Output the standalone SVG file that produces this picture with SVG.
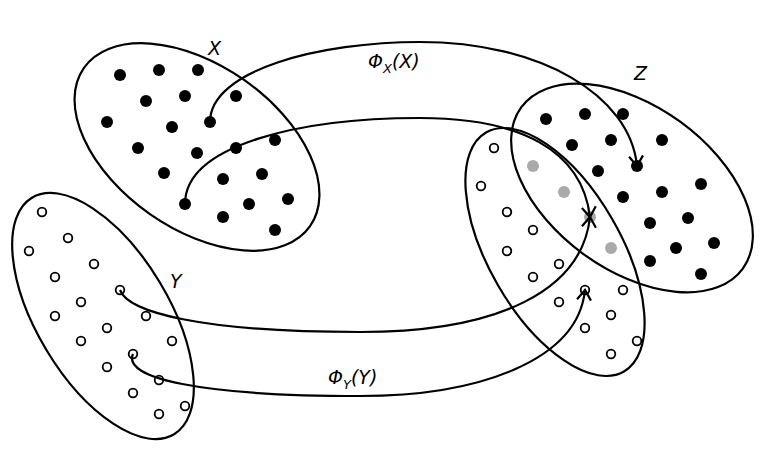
<svg xmlns="http://www.w3.org/2000/svg" width="775" height="465" viewBox="0 0 775 465">
<style>
.e{fill:none;stroke:#000;stroke-width:2.2}
.f{fill:#000}
.o{fill:#fff;stroke:#000;stroke-width:1.8}
.g{fill:#aaa}
.c{fill:none;stroke:#000;stroke-width:2.2}
text{font-family:"DejaVu Sans",sans-serif;font-style:italic;font-size:19px}
</style>
<defs>
<marker id="a" viewBox="-12 -8 14 16" markerWidth="14" markerHeight="16" refX="0" refY="0" orient="auto" markerUnits="userSpaceOnUse">
<path d="M-10,-7 L0,0 L-10,7" fill="none" stroke="#000" stroke-width="2.2"/>
</marker>
</defs>
<g id="X">
<ellipse class="e" cx="197" cy="147" rx="138" ry="82" transform="rotate(35 197 147)"/>
<g class="f">
<circle cx="120" cy="75" r="6"/><circle cx="159" cy="70" r="6"/><circle cx="198" cy="70" r="6"/><circle cx="146" cy="101" r="6"/><circle cx="185" cy="96" r="6"/><circle cx="236" cy="96" r="6"/><circle cx="107" cy="122" r="6"/><circle cx="172" cy="127" r="6"/><circle cx="210" cy="122" r="6"/><circle cx="138" cy="148" r="6"/><circle cx="197" cy="153" r="6"/><circle cx="236" cy="148" r="6"/><circle cx="275" cy="140" r="6"/><circle cx="164" cy="173" r="6"/><circle cx="223" cy="179" r="6"/><circle cx="262" cy="174" r="6"/><circle cx="185" cy="204" r="6"/><circle cx="249" cy="204" r="6"/><circle cx="288" cy="199" r="6"/><circle cx="223" cy="217" r="6"/><circle cx="275" cy="230" r="6"/>
</g>
<text x="208" y="55">X</text>
</g>
<g id="Y">
<ellipse class="e" cx="103" cy="316" rx="138" ry="66" transform="rotate(59 103 316)"/>
<g class="o">
<circle cx="42" cy="212" r="4.3"/><circle cx="68" cy="238" r="4.3"/><circle cx="29" cy="251" r="4.3"/><circle cx="94" cy="264" r="4.3"/><circle cx="55" cy="277" r="4.3"/><circle cx="120" cy="290" r="4.3"/><circle cx="81" cy="302" r="4.3"/><circle cx="146" cy="316" r="4.3"/><circle cx="55" cy="316" r="4.3"/><circle cx="107" cy="328" r="4.3"/><circle cx="172" cy="341" r="4.3"/><circle cx="81" cy="341" r="4.3"/><circle cx="133" cy="354" r="4.3"/><circle cx="107" cy="367" r="4.3"/><circle cx="159" cy="380" r="4.3"/><circle cx="133" cy="393" r="4.3"/><circle cx="185" cy="406" r="4.3"/><circle cx="159" cy="414" r="4.3"/>
</g>
<text x="170" y="288">Y</text>
</g>
<g id="Z">
<ellipse class="e" cx="632" cy="188" rx="137" ry="82" transform="rotate(36 632 188)"/>
<g class="f">
<circle cx="546" cy="119" r="6"/><circle cx="585" cy="114" r="6"/><circle cx="623" cy="114" r="6"/><circle cx="572" cy="145" r="6"/><circle cx="611" cy="140" r="6"/><circle cx="662" cy="140" r="6"/><circle cx="598" cy="171" r="6"/><circle cx="637" cy="166" r="6"/><circle cx="623" cy="197" r="6"/><circle cx="662" cy="192" r="6"/><circle cx="701" cy="184" r="6"/><circle cx="650" cy="223" r="6"/><circle cx="688" cy="218" r="6"/><circle cx="714" cy="243" r="6"/><circle cx="650" cy="261" r="6"/><circle cx="676" cy="248" r="6"/><circle cx="701" cy="274" r="6"/>
</g>
<text x="634" y="80">Z</text>
</g>
<g id="W">
<ellipse class="e" cx="555" cy="252" rx="138" ry="66" transform="rotate(60 555 252)"/>
<g class="o">
<circle cx="494" cy="148" r="4.3"/><circle cx="481" cy="186" r="4.3"/><circle cx="507" cy="212" r="4.3"/><circle cx="533" cy="230" r="4.3"/><circle cx="507" cy="251" r="4.3"/><circle cx="533" cy="277" r="4.3"/><circle cx="559" cy="264" r="4.3"/><circle cx="559" cy="302" r="4.3"/><circle cx="585" cy="290" r="4.3"/><circle cx="623" cy="290" r="4.3"/><circle cx="585" cy="328" r="4.3"/><circle cx="611" cy="315" r="4.3"/><circle cx="637" cy="341" r="4.3"/><circle cx="611" cy="354" r="4.3"/>
</g>
<g class="g">
<circle cx="533" cy="166" r="6"/><circle cx="564" cy="192" r="6"/><circle cx="590" cy="217" r="6"/><circle cx="611" cy="248" r="6"/>
</g>
</g>
<g id="connectors">
<path class="c" marker-end="url(#a)" d="M210,122 C210,70 320,42 420,42 C540,42 630,95 637,166"/>
<path class="c" marker-end="url(#a)" d="M185,204 C185,145 300,118 420,118 C520,118 582,150 590,217"/>
<path class="c" marker-end="url(#a)" d="M120,290 C128,312 200,332 360,332 C500,332 582,290 590,217"/>
<path class="c" marker-end="url(#a)" d="M133,354 C122,378 200,396 360,396 C480,396 578,360 585,290"/>
</g>
<text x="368" y="68">Φ<tspan font-size="13" dy="5">X</tspan><tspan dy="-5">(X)</tspan></text>
<text x="328" y="384">Φ<tspan font-size="13" dy="5">Y</tspan><tspan dy="-5">(Y)</tspan></text>
</svg>
